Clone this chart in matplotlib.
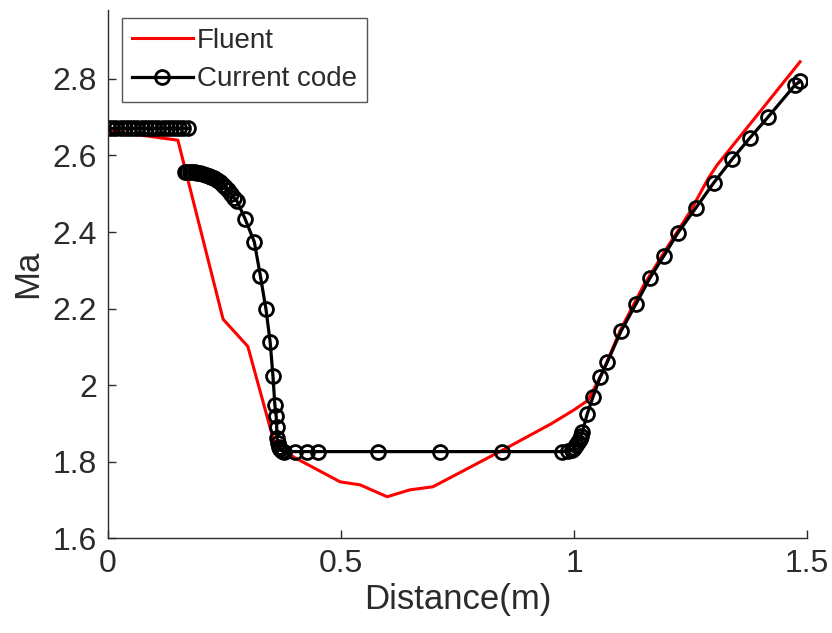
import numpy as np
import matplotlib
matplotlib.use('Agg')
import matplotlib.pyplot as plt

# Fluent 결과
fluent_x = [0.0, 0.150, 0.247, 0.300, 0.358, 0.401, 0.498, 0.541, 0.599, 0.648, 0.697, 0.755,
            0.850, 0.950, 1.000, 1.030, 1.060, 1.100, 1.150, 1.200, 1.250, 1.288, 1.307, 1.485]
fluent_y = [2.665, 2.640, 2.172, 2.101, 1.844, 1.810, 1.747, 1.739, 1.708, 1.726, 1.734, 1.771,
            1.832, 1.898, 1.935, 1.960, 2.030, 2.145, 2.262, 2.360, 2.455, 2.540, 2.575, 2.845]

# Current code 결과 (nan = 선 끊김)
code_x = [0.0, 0.009, 0.018, 0.027, 0.036, 0.045, 0.054, 0.063, 0.072, 0.081, 0.090, 0.099,
          0.108, 0.117, 0.126, 0.135, 0.144, 0.153, 0.162, 0.172,
          np.nan,
          0.165, 0.170, 0.175, 0.180, 0.186, 0.192, 0.198, 0.204, 0.210, 0.216, 0.222, 0.228,
          0.234, 0.240, 0.246, 0.252, 0.258, 0.264, 0.270, 0.277,
          0.294, 0.314, 0.327, 0.339, 0.348, 0.354, 0.358, 0.361, 0.362, 0.363, 0.364, 0.366,
          0.369, 0.373, 0.378, 0.401, 0.426, 0.451, 0.579, 0.712, 0.845, 0.974,
          0.986, 0.995, 1.001, 1.005, 1.009, 1.012, 1.015, 1.018,
          1.028, 1.041, 1.056, 1.071, 1.101, 1.133, 1.163, 1.193, 1.223, 1.262, 1.300, 1.339,
          1.378, 1.416, 1.474, 1.485]
code_y = [2.671] * 20 + [np.nan] + \
         [2.556, 2.557, 2.557, 2.557, 2.556, 2.555, 2.554, 2.552, 2.550, 2.547, 2.544, 2.540,
          2.535, 2.530, 2.524, 2.517, 2.509, 2.500, 2.490, 2.480,
          2.435, 2.374, 2.285, 2.198, 2.112, 2.023, 1.949, 1.918, 1.889, 1.862, 1.848, 1.838,
          1.832, 1.828, 1.826, 1.826, 1.826, 1.826, 1.826, 1.826, 1.826, 1.826,
          1.827, 1.830, 1.836, 1.843, 1.851, 1.859, 1.868, 1.877,
          1.923, 1.970, 2.020, 2.059, 2.141, 2.212, 2.280, 2.338, 2.398, 2.464, 2.529, 2.590,
          2.647, 2.700, 2.784, 2.794]

x_ticks = [0, 0.5, 1, 1.5]
x_ticklabels = ['0', '0.5', '1', '1.5']
y_ticks = [1.6, 1.8, 2.0, 2.2, 2.4, 2.6, 2.8]
y_ticklabels = ['1.6', '1.8', '2', '2.2', '2.4', '2.6', '2.8']

plt.rcParams['font.family'] = ['Liberation Sans', 'DejaVu Sans']
dark = '#2b2b2b'

fig = plt.figure(figsize=(8.32, 6.33), dpi=100)
ax = fig.add_axes([0.1298, 0.150, 0.8402, 0.834])

ax.plot(fluent_x, fluent_y, color=(1.0, 0.0, 0.0), lw=2.2, label='Fluent')
ax.plot(code_x, code_y, color='black', lw=2.3, marker='o', markersize=10,
        markerfacecolor='none', markeredgewidth=2.0, label='Current code')

ax.set_xlim(0, 1.5)
ax.set_ylim(1.6, 2.98)
ax.set_xticks(x_ticks)
ax.set_xticklabels(x_ticklabels)
ax.set_yticks(y_ticks)
ax.set_yticklabels(y_ticklabels)

for s in ['top', 'right']:
    ax.spines[s].set_visible(False)
for s in ['left', 'bottom']:
    ax.spines[s].set_color(dark)
    ax.spines[s].set_linewidth(1.0)

ax.tick_params(direction='in', length=6, width=1.0, colors=dark, labelsize=23, pad=8)
ax.set_xlabel('Distance(m)', fontsize=25, color=dark, labelpad=3)
ax.set_ylabel('Ma', fontsize=25, color=dark, labelpad=6)

leg = ax.legend(loc='upper left', bbox_to_anchor=(0.02, 0.985), fontsize=20, frameon=True,
                fancybox=False, edgecolor=dark, handlelength=2.2, handletextpad=0.15,
                borderpad=0.35, labelspacing=0.45, borderaxespad=0.0)
leg.get_frame().set_linewidth(1.0)
for t in leg.get_texts():
    t.set_color(dark)

fig.savefig('out.png', dpi=100)
